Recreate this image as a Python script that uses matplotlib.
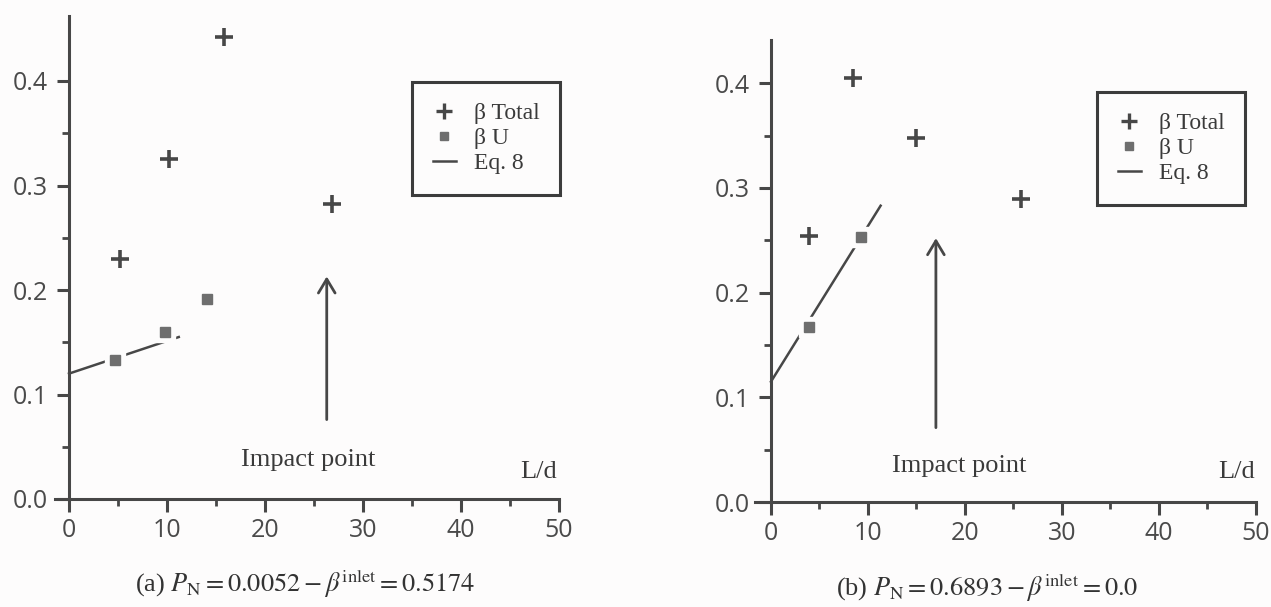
import matplotlib.pyplot as plt
from matplotlib.lines import Line2D

plt.rcParams['mathtext.fontset'] = 'stix'

# panel (a)
a_total_x = [5.2, 10.2, 15.8, 26.8]
a_total_y = [0.230, 0.325, 0.442, 0.282]
a_u_x = [4.7, 9.8, 14.1]
a_u_y = [0.133, 0.160, 0.191]
a_eq8_x = [0.0, 11.2]
a_eq8_y = [0.120, 0.155]
a_arrow_x = 26.3
a_arrow_y = [0.076, 0.213]

# panel (b)
b_total_x = [3.9, 8.5, 15.0, 25.8]
b_total_y = [0.254, 0.405, 0.348, 0.289]
b_u_x = [3.9, 9.3]
b_u_y = [0.167, 0.253]
b_eq8_x = [0.0, 11.3]
b_eq8_y = [0.115, 0.283]
b_arrow_x = 17.0
b_arrow_y = [0.071, 0.252]

yticks = [0.0, 0.1, 0.2, 0.3, 0.4]
ytick_labels = ['0.0', '0.1', '0.2', '0.3', '0.4']
xticks = [0, 10, 20, 30, 40, 50]
xtick_labels = ['0', '10', '20', '30', '40', '50']
legend_labels = ['β Total', 'β U', 'Eq. 8']
captions = [r'(a) $P_{\mathrm{N}}=0.0052-\beta^{\mathrm{inlet}}=0.5174$',
            r'(b) $P_{\mathrm{N}}=0.6893-\beta^{\mathrm{inlet}}=0.0$']

ink = '#474747'
bg = '#fdfcfc'
W, H = 1271, 607

fig = plt.figure(figsize=(W / 100, H / 100), dpi=100, facecolor=bg)


def make_axes(x0px, y0px, pxx, pxy, xstart, ytop):
    # place axes so that data (0,0) lands on pixel (x0px, y0px)
    xl, xr = -2.0, 51.0
    yb, yt = -0.03, 0.47
    left = (x0px + xl * pxx) / W
    width = (xr - xl) * pxx / W
    top = (y0px - yt * pxy)
    bottom = (y0px - yb * pxy)
    ax = fig.add_axes([left, (H - bottom) / H, width, (bottom - top) / H])
    ax.set_xlim(xl, xr)
    ax.set_ylim(yb, yt)
    ax.set_facecolor('none')
    for s in ['top', 'right']:
        ax.spines[s].set_visible(False)
    ax.spines['left'].set_position(('data', 0))
    ax.spines['bottom'].set_position(('data', 0))
    ax.spines['left'].set_bounds(0, ytop)
    ax.spines['bottom'].set_bounds(xstart, 50)
    for s in ['left', 'bottom']:
        ax.spines[s].set_color(ink)
        ax.spines[s].set_linewidth(2.2)
    ax.set_xticks(xticks)
    ax.set_xticklabels(xtick_labels)
    ax.set_xticks([5, 15, 25, 35, 45], minor=True)
    ax.set_yticks(yticks)
    ax.set_yticklabels(ytick_labels)
    ax.set_yticks([0.05, 0.15, 0.25, 0.35], minor=True)
    ax.tick_params(which='major', direction='out', length=9, width=2.2,
                   color=ink, labelcolor='#4a4a4a', labelsize=18, pad=5)
    ax.tick_params(which='minor', direction='out', length=5, width=2,
                   color=ink)
    ax.tick_params(axis='y', pad=6)
    for lab in ax.get_xticklabels() + ax.get_yticklabels():
        lab.set_fontfamily('Open Sans')
    return ax


def draw(ax, tx, ty, ux, uy, ex, ey, arx, ary, imp_x, imp_y, ld_x, ld_y):
    ax.plot(ex, ey, '-', color=ink, lw=1.8, zorder=2)
    ax.plot(ux, uy, 's', ms=15, color=bg, zorder=3)
    ax.plot(ux, uy, 's', ms=7, color='#6e6e6e', zorder=4)
    ax.plot(tx, ty, '+', ms=13, mew=2.6, color=ink, zorder=4)
    ax.annotate('', xy=(arx, ary[1]), xytext=(arx, ary[0]),
                arrowprops=dict(arrowstyle='->,head_length=0.5,head_width=0.3',
                                lw=2, color=ink, mutation_scale=20,
                                shrinkA=0, shrinkB=0))
    ax.text(imp_x, imp_y, 'Impact point', ha='center', va='center',
            fontsize=19, fontfamily='Liberation Serif', color='#3a3a3a')
    ax.text(ld_x, ld_y, 'L/d', ha='center', va='center',
            fontsize=19, fontfamily='Liberation Serif', color='#3a3a3a')


def add_legend(ax, x_px, y_px):
    handles = [Line2D([], [], ls='none', marker='+', ms=12, mew=2.4, color=ink),
               Line2D([], [], ls='none', marker='s', ms=6, color='#6e6e6e'),
               Line2D([], [], ls='-', lw=1.8, color=ink)]
    leg = ax.legend(handles, legend_labels, loc='upper left',
                    bbox_to_anchor=(x_px / W, 1 - y_px / H),
                    bbox_transform=fig.transFigure, borderaxespad=0,
                    frameon=True, fancybox=False, framealpha=1,
                    handlelength=1.0, handletextpad=0.75, borderpad=0.87,
                    labelspacing=0.15, prop={'family': 'Liberation Serif', 'size': 17})
    leg.get_frame().set_edgecolor('#3c3c3c')
    leg.get_frame().set_linewidth(2.2)
    leg.get_frame().set_facecolor(bg)
    for t in leg.get_texts():
        t.set_color('#3a3a3a')


ax1 = make_axes(69, 499, 9.8, 1045, -1.4, 0.462)
draw(ax1, a_total_x, a_total_y, a_u_x, a_u_y, a_eq8_x, a_eq8_y,
     a_arrow_x, a_arrow_y, 24.4, 0.037, 47.9, 0.026)
add_legend(ax1, 412, 82)

ax2 = make_axes(771, 502, 9.7, 1047, -1.6, 0.441)
draw(ax2, b_total_x, b_total_y, b_u_x, b_u_y, b_eq8_x, b_eq8_y,
     b_arrow_x, b_arrow_y, 19.4, 0.034, 48.0, 0.029)
add_legend(ax2, 1097, 92)

fig.text(305 / W, 1 - 584 / H, captions[0], ha='center', va='center',
         fontsize=19, fontfamily='Liberation Serif', color='#333333')
fig.text(987 / W, 1 - 588 / H, captions[1], ha='center', va='center',
         fontsize=19, fontfamily='Liberation Serif', color='#333333')

fig.savefig('out.png', dpi=100, facecolor=bg)
